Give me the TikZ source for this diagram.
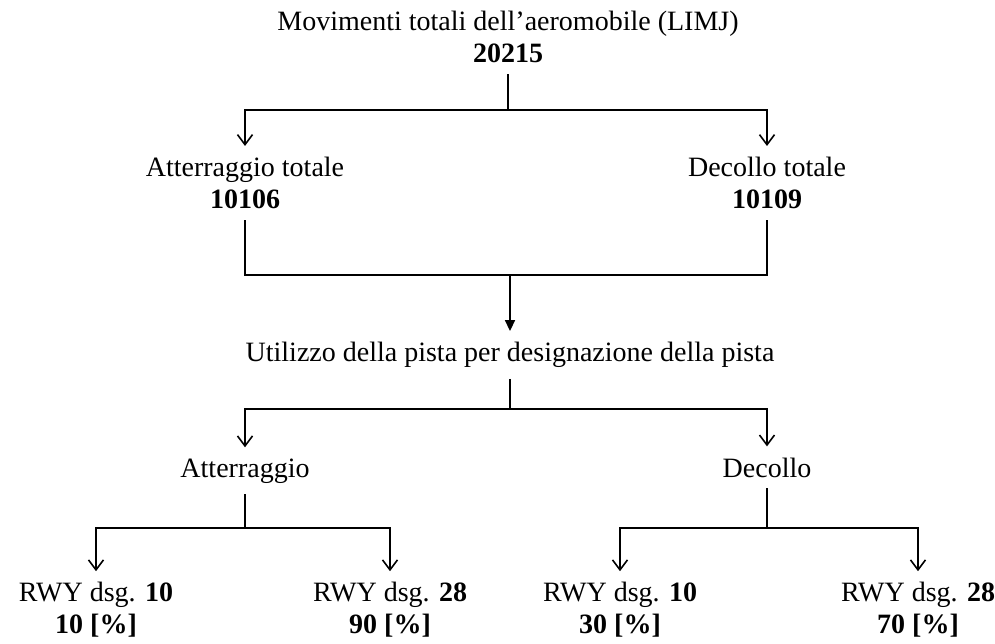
\documentclass[tikz,border=0pt]{standalone}
\usepackage{fontspec}
\setmainfont{Liberation Serif}
\usetikzlibrary{arrows.meta,positioning}

\begin{document}
\begin{tikzpicture}[
    x=1pt, y=-1pt,
    lbl/.style={align=center, inner sep=11pt, font=\fontsize{28}{32}\selectfont},
    link/.style={line width=1.6pt, color=black},
    arr/.style={link, -{Straight Barb[length=10pt,width=15pt,line width=1.6pt]}},
    arrf/.style={link, -{Triangle[length=11pt,width=10pt]}}
  ]
    \useasboundingbox (0,0) rectangle (995,643);

    % livello 1
    \node[lbl] (tot) at (508,37) {Movimenti totali dell'aeromobile (LIMJ)\\\textbf{20215}};
    \node[lbl] (atot) at (245,183) {Atterraggio totale\\\textbf{10106}};
    \node[lbl] (dtot) at (767,183) {Decollo totale\\\textbf{10109}};

    \coordinate (j1) at (508,110);
    \draw[link] (tot.south) -- (j1);
    \draw[arr] (j1) -| (atot.north);
    \draw[arr] (j1) -| (dtot.north);

    % utilizzo pista
    \node[lbl] (util) at (510,355) {Utilizzo della pista per designazione della pista};
    \coordinate (j2) at (510,275);
    \draw[link] (atot.south) |- (j2);
    \draw[link] (dtot.south) |- (j2);
    \draw[arrf] (j2) -- (util.north);

    % atterraggio / decollo
    \node[lbl, anchor=base] (att) at (245,477) {Atterraggio};
    \node[lbl, anchor=base] (dec) at (767,477) {Decollo};
    \coordinate (j3) at (510,409);
    \draw[link] (util.south) -- (j3);
    \draw[arr] (j3) -| (att.north);
    \draw[arr] (j3) -| (dec.north);

    % piste
    \node[lbl] (a10) at (96,610) {RWY dsg. \textbf{10}\\\textbf{10 [\%]}};
    \node[lbl] (a28) at (390,610) {RWY dsg. \textbf{28}\\\textbf{90 [\%]}};
    \node[lbl] (d10) at (620,610) {RWY dsg. \textbf{10}\\\textbf{30 [\%]}};
    \node[lbl] (d28) at (918,610) {RWY dsg. \textbf{28}\\\textbf{70 [\%]}};

    \coordinate (j4) at (245,528);
    \coordinate (j5) at (767,528);
    \draw[link] (att.south) -- (j4);
    \draw[arr] (j4) -| (a10.north);
    \draw[arr] (j4) -| (a28.north);
    \draw[link] (dec.south) -- (j5);
    \draw[arr] (j5) -| (d10.north);
    \draw[arr] (j5) -| (d28.north);
\end{tikzpicture}
\end{document}
